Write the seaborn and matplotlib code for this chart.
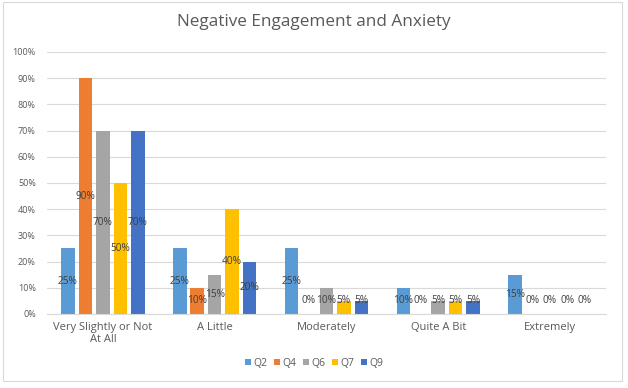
import pandas as pd
import matplotlib.pyplot as plt
import seaborn as sns
from matplotlib.patches import Rectangle
from matplotlib.ticker import PercentFormatter

categories = ["Very Slightly or Not\nAt All", "A Little", "Moderately", "Quite A Bit", "Extremely"]
series = ["Q2", "Q4", "Q6", "Q7", "Q9"]
q2 = [25, 25, 25, 10, 15]
q4 = [90, 10, 0, 0, 0]
q6 = [70, 15, 10, 5, 0]
q7 = [50, 40, 5, 5, 0]
q9 = [70, 20, 5, 5, 0]
colors = ["#5B9BD5", "#ED7D31", "#A5A5A5", "#FFC000", "#4472C4"]

rows = []
for name, vals in zip(series, [q2, q4, q6, q7, q9]):
    for cat, v in zip(categories, vals):
        rows.append({"cat": cat, "q": name, "val": v})
df = pd.DataFrame(rows)

sns.set_style("white")
plt.rcParams['font.family'] = ['Open Sans', 'DejaVu Sans']
txt = "#595959"

fig = plt.figure(figsize=(6.28, 3.88), dpi=100)
ax = fig.add_axes([0.0748, 0.191, 0.890, 0.675])

sns.barplot(data=df, x="cat", y="val", hue="q", palette=colors, width=0.78,
            saturation=1, linewidth=0, ax=ax, legend=True)

# narrow each bar to leave small gaps inside the group
for p in ax.patches:
    w = p.get_width()
    if w > 0:
        c = p.get_x() + w / 2
        nw = w * 0.78
        p.set_x(c - nw / 2)
        p.set_width(nw)

# labels at bar centre, but never lower than the text height allows (like Excel)
for cont in ax.containers:
    for p, v in zip(cont.patches, cont.datavalues):
        x = p.get_x() + p.get_width() / 2
        ax.text(x, max(v / 2, 5.3), f"{int(v)}%", ha="center", va="center",
                fontsize=7.3, color="#404040")

ax.set_ylim(0, 100)
ax.set_yticks(range(0, 101, 10))
ax.yaxis.set_major_formatter(PercentFormatter(decimals=0))
ax.grid(axis="y", color="#D9D9D9", linewidth=0.8)
ax.set_axisbelow(True)
for s in ["top", "right", "left"]:
    ax.spines[s].set_visible(False)
ax.spines["bottom"].set_color("#D9D9D9")
ax.tick_params(axis="y", labelsize=6.5, colors=txt, length=0, pad=8)
ax.tick_params(axis="x", labelsize=8, colors=txt, length=0, pad=6)
ax.set_xlabel("")
ax.set_ylabel("")
ax.set_xlim(-0.5, 4.5)

for t in ax.get_xticklabels():
    t.set_linespacing(1.15)

fig.text(0.5, 1 - 22 / 388, "Negative Engagement and Anxiety", fontsize=12.3,
         color=txt, ha="center", va="center")

h, l = ax.get_legend_handles_labels()
ax.get_legend().remove()
fig.legend(h, l, loc="center", bbox_to_anchor=(0.5, 1 - 363 / 388), ncol=5, frameon=False,
           fontsize=7.5, labelcolor=txt, handlelength=0.6, handleheight=0.6,
           handletextpad=0.25, columnspacing=0.6)

fig.patches.append(Rectangle((3 / 628, 1 - 381 / 388), 619 / 628, 379 / 388,
                             transform=fig.transFigure, fill=False,
                             edgecolor="#D9D9D9", linewidth=0.8))

plt.savefig("out.png", dpi=100)
